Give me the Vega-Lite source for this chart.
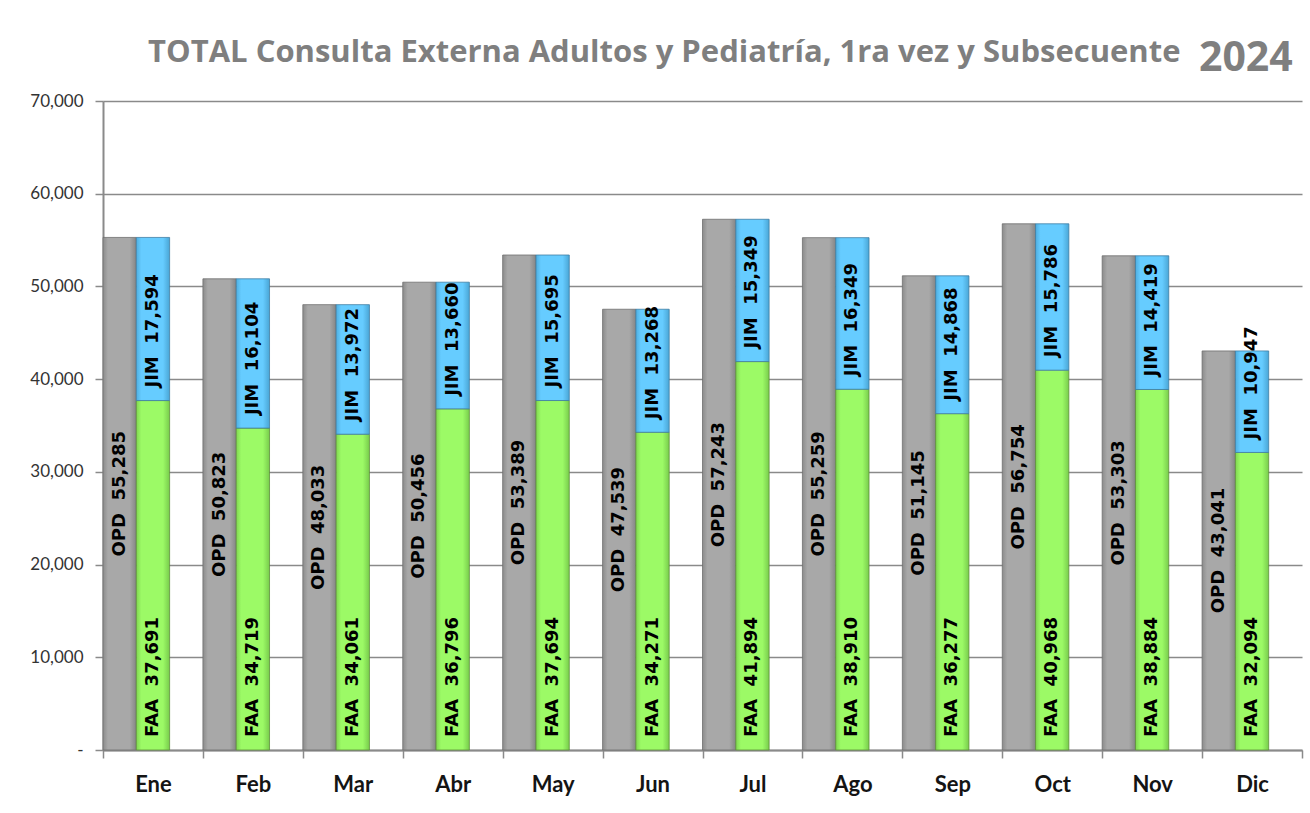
{
  "$schema": "https://vega.github.io/schema/vega-lite/v6.json",
  "width": 1199,
  "height": 649,
  "autosize": {"type": "none"},
  "padding": {"left": 103, "top": 101, "right": 8, "bottom": 63},
  "background": "white",
  "title": {"text": "2024", "anchor": "end", "font": "Open Sans", "fontSize": 41, "fontWeight": "bold", "color": "#7f7f7f", "offset": -36, "dy": 40, "baseline": "alphabetic", "dx": -10},
  "data": {"values": [
    {"month": "Ene", "series": "OPD", "value": 55285}, {"month": "Ene", "series": "FAA", "value": 37691}, {"month": "Ene", "series": "JIM", "value": 17594},
    {"month": "Feb", "series": "OPD", "value": 50823}, {"month": "Feb", "series": "FAA", "value": 34719}, {"month": "Feb", "series": "JIM", "value": 16104},
    {"month": "Mar", "series": "OPD", "value": 48033}, {"month": "Mar", "series": "FAA", "value": 34061}, {"month": "Mar", "series": "JIM", "value": 13972},
    {"month": "Abr", "series": "OPD", "value": 50456}, {"month": "Abr", "series": "FAA", "value": 36796}, {"month": "Abr", "series": "JIM", "value": 13660},
    {"month": "May", "series": "OPD", "value": 53389}, {"month": "May", "series": "FAA", "value": 37694}, {"month": "May", "series": "JIM", "value": 15695},
    {"month": "Jun", "series": "OPD", "value": 47539}, {"month": "Jun", "series": "FAA", "value": 34271}, {"month": "Jun", "series": "JIM", "value": 13268},
    {"month": "Jul", "series": "OPD", "value": 57243}, {"month": "Jul", "series": "FAA", "value": 41894}, {"month": "Jul", "series": "JIM", "value": 15349},
    {"month": "Ago", "series": "OPD", "value": 55259}, {"month": "Ago", "series": "FAA", "value": 38910}, {"month": "Ago", "series": "JIM", "value": 16349},
    {"month": "Sep", "series": "OPD", "value": 51145}, {"month": "Sep", "series": "FAA", "value": 36277}, {"month": "Sep", "series": "JIM", "value": 14868},
    {"month": "Oct", "series": "OPD", "value": 56754}, {"month": "Oct", "series": "FAA", "value": 40968}, {"month": "Oct", "series": "JIM", "value": 15786},
    {"month": "Nov", "series": "OPD", "value": 53303}, {"month": "Nov", "series": "FAA", "value": 38884}, {"month": "Nov", "series": "JIM", "value": 14419},
    {"month": "Dic", "series": "OPD", "value": 43041}, {"month": "Dic", "series": "FAA", "value": 32094}, {"month": "Dic", "series": "JIM", "value": 10947}
  ]},
  "transform": [
    {"calculate": "datum.series === 'OPD' ? 'A' : 'B'", "as": "grp"},
    {"stack": "value", "groupby": ["month", "grp"], "sort": [{"field": "series", "order": "ascending"}], "as": ["y0", "y1"]},
    {"calculate": "(datum.y0 + datum.y1) / 2", "as": "mid"},
    {"calculate": "datum.series + '\u00a0\u00a0' + format(datum.value, ',')", "as": "label"}
  ],
  "encoding": {
    "x": {"field": "month", "type": "nominal", "sort": ["Ene","Feb","Mar","Abr","May","Jun","Jul","Ago","Sep","Oct","Nov","Dic"], "title": null, "scale": {"paddingInner": 0, "paddingOuter": 0}},
    "xOffset": {"field": "grp", "type": "nominal", "scale": {"domain": ["A", "B", "C"], "paddingInner": 0, "paddingOuter": 0}}
  },
  "layer": [
    {
      "transform": [{"filter": "datum.series === 'OPD'"}],
      "mark": {"type": "bar", "stroke": "#6e6e6e", "strokeWidth": 0.8, "color": {"gradient": "linear", "x1": 0, "y1": 0, "x2": 1, "y2": 0, "stops": [{"offset": 0, "color": "#8c8c8c"}, {"offset": 0.15, "color": "#a8a8a8"}, {"offset": 0.8, "color": "#a8a8a8"}, {"offset": 1, "color": "#858585"}]}},
      "encoding": {
        "y": {"field": "y1", "type": "quantitative", "scale": {"domain": [0, 70000], "nice": false}, "title": "TOTAL Consulta Externa Adultos y Pediatría, 1ra vez y Subsecuente",
          "axis": {"values": [0, 10000, 20000, 30000, 40000, 50000, 60000, 70000], "labelExpr": "datum.value === 0 ? '-' : format(datum.value, ',')"}},
        "y2": {"field": "y0"}
      }
    },
    {
      "transform": [{"filter": "datum.series === 'FAA'"}],
      "mark": {"type": "bar", "stroke": "#5e8f3a", "strokeWidth": 0.8, "color": {"gradient": "linear", "x1": 0, "y1": 0, "x2": 1, "y2": 0, "stops": [{"offset": 0, "color": "#7fd650"}, {"offset": 0.15, "color": "#9cfa66"}, {"offset": 0.8, "color": "#9cfa66"}, {"offset": 1, "color": "#78cc4c"}]}},
      "encoding": {
        "y": {"field": "y1", "type": "quantitative", "title": "TOTAL Consulta Externa Adultos y Pediatría, 1ra vez y Subsecuente"},
        "y2": {"field": "y0"}
      }
    },
    {
      "transform": [{"filter": "datum.series === 'JIM'"}],
      "mark": {"type": "bar", "stroke": "#3f7ea3", "strokeWidth": 0.8, "color": {"gradient": "linear", "x1": 0, "y1": 0, "x2": 1, "y2": 0, "stops": [{"offset": 0, "color": "#4eaee0"}, {"offset": 0.15, "color": "#66ccff"}, {"offset": 0.8, "color": "#66ccff"}, {"offset": 1, "color": "#4aa6d6"}]}},
      "encoding": {
        "y": {"field": "y1", "type": "quantitative", "title": "TOTAL Consulta Externa Adultos y Pediatría, 1ra vez y Subsecuente"},
        "y2": {"field": "y0"}
      }
    },
    {
      "transform": [{"filter": "datum.series === 'OPD'"}],
      "mark": {"type": "text", "angle": 270, "align": "center", "baseline": "middle", "font": "DejaVu Sans", "fontSize": 18, "fontWeight": "bold", "color": "#000000"},
      "encoding": {
        "y": {"field": "mid", "type": "quantitative", "title": "TOTAL Consulta Externa Adultos y Pediatría, 1ra vez y Subsecuente"},
        "text": {"field": "label"}
      }
    },
    {
      "transform": [{"filter": "datum.series !== 'OPD'"}],
      "mark": {"type": "text", "angle": 270, "align": "left", "baseline": "middle", "dx": 13, "font": "DejaVu Sans", "fontSize": 18, "fontWeight": "bold", "color": "#000000"},
      "encoding": {
        "y": {"field": "y0", "type": "quantitative", "title": "TOTAL Consulta Externa Adultos y Pediatría, 1ra vez y Subsecuente"},
        "text": {"field": "label"}
      }
    }
  ],
  "config": {
    "view": {"stroke": null},
    "axisY": {
      "domainColor": "#8a8a8a", "domainWidth": 2,
      "gridColor": "#8a8a8a", "gridWidth": 1.5,
      "tickColor": "#8a8a8a", "tickWidth": 1.5, "tickSize": 8,
      "labelFont": "Lato", "labelFontSize": 17, "labelColor": "#333333", "labelPadding": 12,
      "titleFont": "Open Sans", "titleFontSize": 31, "titleFontWeight": "bold", "titleColor": "#7f7f7f",
      "titleAngle": 0, "titleAlign": "right", "titleBaseline": "alphabetic", "titleX": 1077, "titleY": -40
    },
    "axisX": {
      "domainColor": "#8a8a8a", "domainWidth": 2,
      "tickColor": "#8a8a8a", "tickWidth": 1.5, "tickSize": 8, "tickBand": "extent",
      "labelFont": "Lato", "labelFontSize": 22, "labelFontWeight": "bold", "labelColor": "#141414",
      "labelPadding": 16, "labelAngle": 0, "grid": false
    }
  }
}
